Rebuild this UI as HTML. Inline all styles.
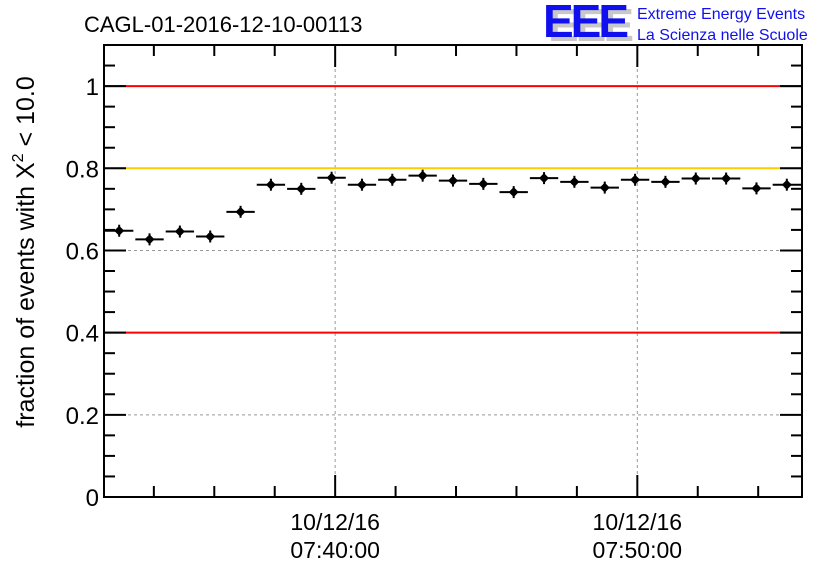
<!DOCTYPE html>
<html><head><meta charset="utf-8"><style>
body{margin:0;background:#fff;}
svg text{font-family:"Liberation Sans",sans-serif;}
</style></head><body>
<svg id="chart" width="836" height="572">
<g id="grid"></g>
<g id="refs"></g>
<g id="marks"></g>
<g id="axes"></g>
<text x="84" y="32" font-size="22">CAGL-01-2016-12-10-00113</text>
<g>
<text x="548" y="41" font-size="46" font-weight="bold" fill="#c8c8c8" letter-spacing="-3">EEE</text>
<text x="543" y="37" font-size="46" font-weight="bold" fill="#1010ee" letter-spacing="-3">EEE</text>
<text x="637" y="19" font-size="16" fill="#1010ee">Extreme Energy Events</text>
<text x="637" y="40" font-size="16" fill="#1010ee">La Scienza nelle Scuole</text>
</g>
<text transform="translate(34,252) rotate(-90)" text-anchor="middle" font-size="25">fraction of events with X<tspan font-size="16" dy="-11">2</tspan><tspan dy="11"> &lt; 10.0</tspan></text>
</svg>
<script>
const values=[0.648,0.627,0.646,0.634,0.694,0.760,0.750,0.777,0.760,0.772,0.782,0.770,0.762,0.742,0.776,0.767,0.753,0.772,0.767,0.775,0.775,0.751,0.760];
const yTicks=[0,0.2,0.4,0.6,0.8,1];
const yTickLabels=["0","0.2","0.4","0.6","0.8","1"];
const xTickMinutes=[7.65,17.65];
const xTickDates=["10/12/16","10/12/16"];
const xTickTimes=["07:40:00","07:50:00"];
const refLevels=[1.0,0.8,0.4];
const refColors=["#ff0000","#ffcc00","#ff0000"];
const X0=104,X1=802,Y0=497,Y1=45,XMAX=23.1,YMAX=1.1;
const sx=m=>X0+(m/XMAX)*(X1-X0);
const sy=v=>Y0-(v/YMAX)*(Y0-Y1);
const NS="http://www.w3.org/2000/svg";
function mk(t,a,p){const e=document.createElementNS(NS,t);for(const k in a)e.setAttribute(k,a[k]);p.appendChild(e);return e;}
const grid=document.getElementById('grid'),refs=document.getElementById('refs'),marks=document.getElementById('marks'),axes=document.getElementById('axes');
yTicks.forEach((v,i)=>{if(v>0&&v<1){const l=mk('line',{x1:X0,x2:X1,y1:sy(v),y2:sy(v),stroke:'#999','stroke-dasharray':'3,3'},grid);

}});
xTickMinutes.forEach(m=>{const l=mk('line',{x1:sx(m),x2:sx(m),y1:Y1,y2:Y0,stroke:'#999','stroke-dasharray':'3,3'},grid);

});
refLevels.forEach((v,i)=>{const l=mk('line',{x1:X0,x2:X1,y1:sy(v),y2:sy(v),stroke:refColors[i],'stroke-width':2},refs);

});
const bw=(X1-X0)/values.length;
values.forEach((v,i)=>{const xa=X0+i*bw,xb=xa+bw,xc=(xa+xb)/2,y=sy(v);
const g=mk('g',{},marks);


mk('line',{x1:xa+1,x2:xb-1,y1:y,y2:y,stroke:'#000','stroke-width':2},g);
mk('line',{x1:xc,x2:xc,y1:y-6,y2:y+6,stroke:'#000','stroke-width':2},g);
mk('polygon',{points:`${xc},${y-5} ${xc+5},${y} ${xc},${y+5} ${xc-5},${y}`,fill:'#000'},g);});
const fr=mk('rect',{x:X0,y:Y1,width:X1-X0,height:Y0-Y1,fill:'none',stroke:'#000','stroke-width':2},axes);


for(let k=0;k<=22;k++){const v=k*0.05,y=sy(v),maj=k%4==0,L=maj?22:11;
mk('line',{x1:X0,x2:X0+L,y1:y,y2:y,stroke:'#000','stroke-width':2},axes);
mk('line',{x1:X1,x2:X1-L,y1:y,y2:y,stroke:'#000','stroke-width':2},axes);}
yTicks.forEach((v,i)=>{const t=mk('text',{x:X0-5,y:sy(v)+9,'text-anchor':'end','font-size':24},axes);t.textContent=yTickLabels[i];

});
for(let m=xTickMinutes[0]-6;m<XMAX;m+=2){if(m<0)continue;const maj=Math.abs(((m-xTickMinutes[0])%10+10)%10)<0.01,L=maj?22:11,x=sx(m);
mk('line',{x1:x,x2:x,y1:Y0,y2:Y0-L,stroke:'#000','stroke-width':2},axes);
mk('line',{x1:x,x2:x,y1:Y1,y2:Y1+L,stroke:'#000','stroke-width':2},axes);}
xTickMinutes.forEach((m,i)=>{const t=mk('text',{x:sx(m),y:530,'text-anchor':'middle','font-size':23},axes);t.textContent=xTickDates[i];


const t2=mk('text',{x:sx(m),y:558,'text-anchor':'middle','font-size':23},axes);t2.textContent=xTickTimes[i];

});
</script>
</body></html>
